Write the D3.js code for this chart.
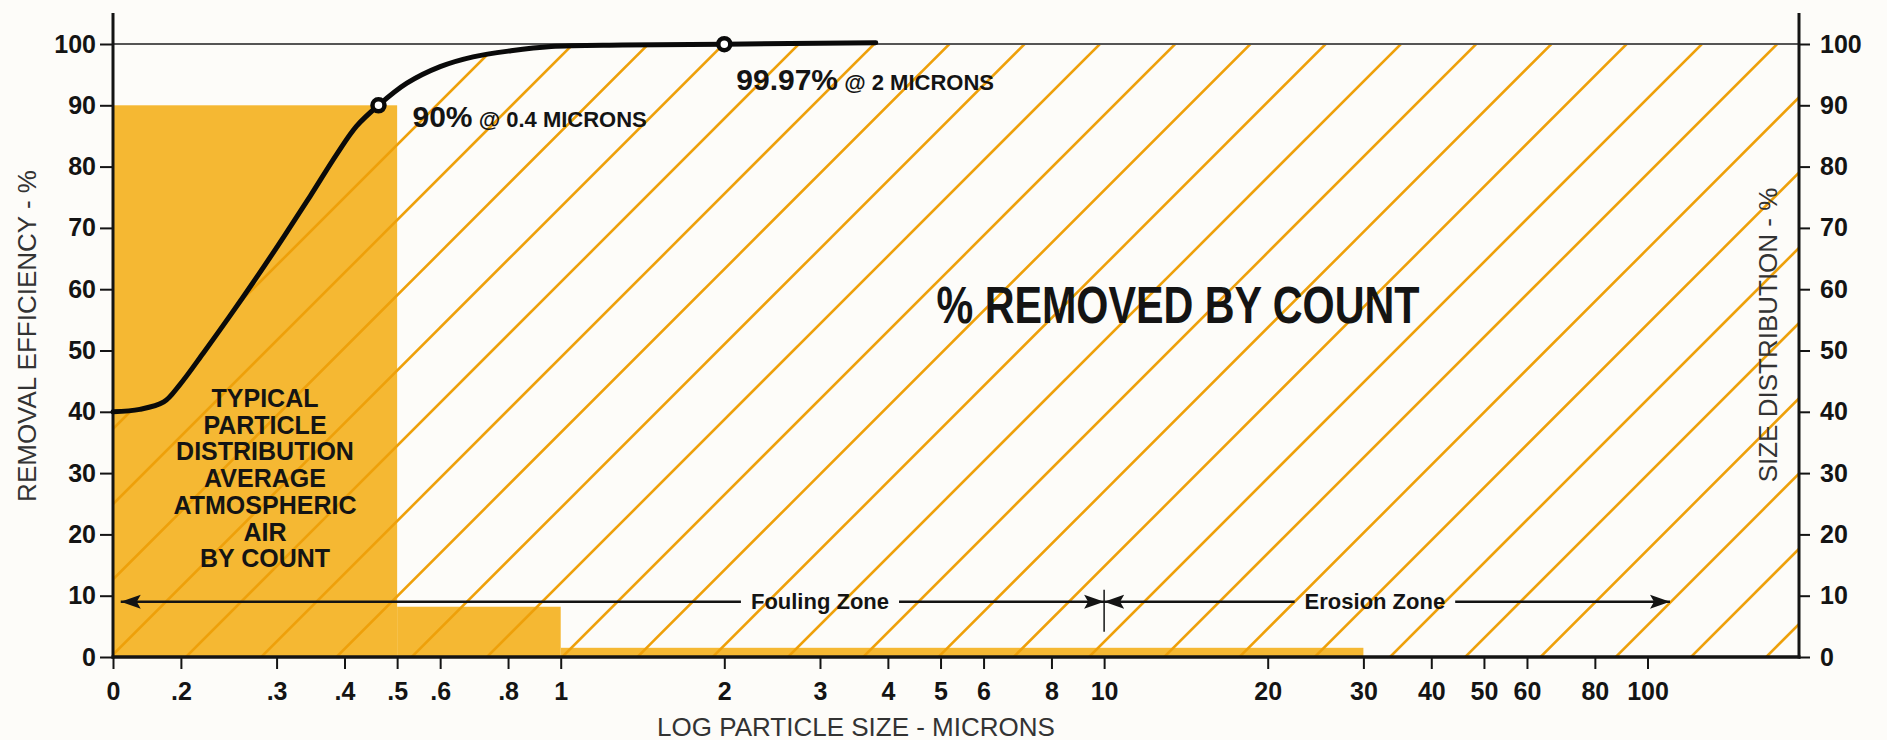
<!DOCTYPE html>
<html>
<head>
<meta charset="utf-8">
<script src="https://cdn.jsdelivr.net/npm/d3@7"></script>
<style>
  html, body { margin: 0; padding: 0; background: #fdfcf9; }
  svg { display: block; }
  text { font-family: "Liberation Sans", Arial, Helvetica, sans-serif; }
</style>
</head>
<body>
<svg id="chart" width="1887" height="740"></svg>
<script>
// ---------------- data ----------------
const xTickValues = [0.15, 0.2, 0.3, 0.4, 0.5, 0.6, 0.8, 1, 2, 3, 4, 5, 6, 8, 10, 20, 30, 40, 50, 60, 80, 100];
const xTickLabels = ["0", ".2", ".3", ".4", ".5", ".6", ".8", "1", "2", "3", "4", "5", "6", "8", "10", "20", "30", "40", "50", "60", "80", "100"];
const xDomain = [0.15, 190];               // axis origin (labelled "0") to right edge
const yTickValues = [0, 10, 20, 30, 40, 50, 60, 70, 80, 90, 100];

// removal efficiency curve (particle size in microns, % removed)
const efficiencySize = [0.15, 0.168, 0.186, 0.199, 0.22, 0.246, 0.276, 0.309, 0.346, 0.387, 0.421, 0.462, 0.521, 0.6, 0.69, 0.81, 0.96, 1.3, 2.0, 3.8];
const efficiencyPct  = [40, 40.4, 41.6, 44.4, 49.6, 55.6, 62, 68.5, 75.2, 82, 86.6, 90, 93.6, 96.3, 97.9, 98.9, 99.6, 99.85, 99.97, 100.2];

// highlighted points
const markerSize  = [0.462, 2];
const markerPct   = [90, 99.97];
const markerBig   = ["90%", "99.97%"];
const markerSmall = [" @ 0.4 MICRONS", " @ 2 MICRONS"];

// typical atmospheric particle size distribution by count (right axis)
const binStart = [0.15, 0.5, 1];
const binEnd   = [0.5, 1, 30];
const binPct   = [90, 8.2, 1.5];

// zones
const zoneNames   = ["Fouling Zone", "Erosion Zone"];
const zoneStart   = [0.155, 10];
const zoneEnd     = [10, 110];
const zoneLabelAt = [3, 31.5];
const zoneLevel   = 9;

const noteLines = ["TYPICAL", "PARTICLE", "DISTRIBUTION", "AVERAGE", "ATMOSPHERIC", "AIR", "BY COUNT"];

// ---------------- layout ----------------
const L = 113, R = 1799, T = 44, B = 657, axisTop = 13;
const svg = d3.select("#chart");
const x = d3.scaleLog().domain(xDomain).range([L, R]);
const y = d3.scaleLinear().domain([0, 100]).range([B, T]);
const yR = d3.scaleLinear().domain([0, 100]).range([B, T]);

const BAR = "#f5b833", HATCH = "#eea00a", INK = "#141414";
const smooth = d3.curveCatmullRom.alpha(0.5);

const defs = svg.append("defs");

// clip: area under the efficiency curve, continued along 100 % to the right edge
const areaPts = efficiencySize.map((s, i) => ({ s, v: Math.min(efficiencyPct[i], 100) }));
areaPts.push({ s: xDomain[1], v: 100 });
const area = d3.area().x(d => x(d.s)).y0(y(0)).y1(d => y(d.v)).curve(smooth);
defs.append("clipPath").attr("id", "under").append("path").attr("d", area(areaPts));

// arrow marker
defs.append("marker")
  .attr("id", "arrow").attr("markerUnits", "userSpaceOnUse")
  .attr("markerWidth", 22).attr("markerHeight", 16)
  .attr("refX", 20).attr("refY", 8).attr("orient", "auto-start-reverse")
  .append("path").attr("d", "M0,1 L20,8 L0,15 L4,8 Z").attr("fill", INK);

// ---------------- size distribution bars ----------------
svg.append("g").selectAll("rect")
  .data(binPct.map((v, i) => ({ a: binStart[i], b: binEnd[i], v })))
  .join("rect")
  .attr("x", d => x(d.a)).attr("width", d => x(d.b) - x(d.a))
  .attr("y", d => yR(d.v)).attr("height", d => yR(0) - yR(d.v))
  .attr("fill", BAR);

// ---------------- hatching under the curve ----------------
const hatchGap = 75.25, hatchPhase = 411.7, span = B - T + 20;
const hatch = svg.append("g").attr("clip-path", "url(#under)");
const kMin = Math.floor((L - span - hatchPhase) / hatchGap), kMax = Math.ceil((R - hatchPhase) / hatchGap);
for (let k = kMin; k <= kMax; k++) {
  const bx = hatchPhase + k * hatchGap;
  hatch.append("line")
    .attr("x1", bx - 5).attr("y1", B + 5)
    .attr("x2", bx + span).attr("y2", B - span)
    .attr("stroke", HATCH).attr("stroke-width", 2.6);
}

// 100 % line
svg.append("line").attr("x1", L).attr("x2", R).attr("y1", y(100)).attr("y2", y(100))
  .attr("stroke", "#555").attr("stroke-width", 2);

// ---------------- zones ----------------
const zg = svg.append("g");
zoneNames.forEach((name, i) => {
  const yy = y(zoneLevel);
  const cx = x(zoneLabelAt[i]);
  const t = zg.append("text").attr("x", cx).attr("y", yy + 7)
    .attr("text-anchor", "middle").attr("font-size", 22).attr("font-weight", "bold")
    .attr("fill", INK).text(name);
  const w = t.node().getComputedTextLength();
  const pad = 10;
  zg.append("line").attr("x1", x(zoneStart[i])).attr("x2", cx - w / 2 - pad)
    .attr("y1", yy).attr("y2", yy).attr("stroke", INK).attr("stroke-width", 2.5)
    .attr("marker-start", "url(#arrow)");
  zg.append("line").attr("x1", cx + w / 2 + pad).attr("x2", x(zoneEnd[i]))
    .attr("y1", yy).attr("y2", yy).attr("stroke", INK).attr("stroke-width", 2.5)
    .attr("marker-end", "url(#arrow)");
});
// divider between zones
zg.append("line").attr("x1", x(zoneEnd[0])).attr("x2", x(zoneEnd[0]))
  .attr("y1", y(zoneLevel) - 12).attr("y2", y(zoneLevel) + 30)
  .attr("stroke", INK).attr("stroke-width", 1.5);

// ---------------- texts ----------------
svg.append("text").attr("x", 1178).attr("y", 323).attr("text-anchor", "middle")
  .attr("font-size", 52).attr("font-weight", "bold").attr("fill", INK)
  .attr("textLength", 483).attr("lengthAdjust", "spacingAndGlyphs")
  .text("% REMOVED BY COUNT");

const note = svg.append("text").attr("text-anchor", "middle").attr("font-size", 25)
  .attr("font-weight", "bold").attr("fill", INK);
noteLines.forEach((s, i) => {
  note.append("tspan").attr("x", 265).attr("y", 407 + i * 26.7).text(s);
});

// ---------------- axes ----------------
const tickFont = g => g.selectAll("text").attr("font-size", 25).attr("font-weight", "bold")
  .attr("fill", INK).attr("font-family", "\"Liberation Sans\", Arial, sans-serif");

const gx = svg.append("g").attr("transform", `translate(0,${B})`)
  .call(d3.axisBottom(x).tickValues(xTickValues)
    .tickFormat(d => xTickLabels[xTickValues.indexOf(d)])
    .tickSize(12).tickPadding(13));
gx.select(".domain").remove();
gx.selectAll("line").attr("stroke", INK).attr("stroke-width", 2);
tickFont(gx);

const gl = svg.append("g").attr("transform", `translate(${L},0)`)
  .call(d3.axisLeft(y).tickValues(yTickValues).tickSize(13).tickPadding(4));
gl.select(".domain").remove();
gl.selectAll("line").attr("stroke", INK).attr("stroke-width", 2);
tickFont(gl);

const gr = svg.append("g").attr("transform", `translate(${R},0)`)
  .call(d3.axisRight(yR).tickValues(yTickValues).tickSize(11).tickPadding(10));
gr.select(".domain").remove();
gr.selectAll("line").attr("stroke", INK).attr("stroke-width", 2);
tickFont(gr);

// axis lines
svg.append("line").attr("x1", L).attr("x2", L).attr("y1", axisTop).attr("y2", B + 1.5)
  .attr("stroke", INK).attr("stroke-width", 3);
svg.append("line").attr("x1", R).attr("x2", R).attr("y1", axisTop).attr("y2", B + 1.5)
  .attr("stroke", INK).attr("stroke-width", 3);
svg.append("line").attr("x1", L - 1.5).attr("x2", R + 1.5).attr("y1", B).attr("y2", B)
  .attr("stroke", INK).attr("stroke-width", 3.5);

// axis titles
svg.append("text").attr("transform", `translate(36,336) rotate(-90)`).attr("text-anchor", "middle")
  .attr("font-size", 26).attr("fill", "#333").text("REMOVAL EFFICIENCY - %");
svg.append("text").attr("transform", `translate(1777,335) rotate(-90)`).attr("text-anchor", "middle")
  .attr("font-size", 26).attr("fill", "#333").text("SIZE DISTRIBUTION - %");
svg.append("text").attr("x", 856).attr("y", 736).attr("text-anchor", "middle")
  .attr("font-size", 26).attr("fill", "#333").text("LOG PARTICLE SIZE - MICRONS");

// ---------------- efficiency curve ----------------
const line = d3.line().x((d, i) => x(efficiencySize[i])).y(d => y(d)).curve(smooth);
svg.append("path").attr("d", line(efficiencyPct)).attr("fill", "none")
  .attr("stroke", "#0a0a0a").attr("stroke-width", 5).attr("stroke-linecap", "round");

// markers + annotations
const labelDx = [34, 12], labelDy = [22, 46];
markerSize.forEach((s, i) => {
  svg.append("circle").attr("cx", x(s)).attr("cy", y(markerPct[i])).attr("r", 6)
    .attr("fill", "#fff").attr("stroke", "#0a0a0a").attr("stroke-width", 4.5);
  const t = svg.append("text").attr("x", x(s) + labelDx[i]).attr("y", y(markerPct[i]) + labelDy[i])
    .attr("font-weight", "bold").attr("fill", INK);
  t.append("tspan").attr("font-size", 30).text(markerBig[i]);
  t.append("tspan").attr("font-size", 22).text(markerSmall[i]);
});
</script>
</body>
</html>
